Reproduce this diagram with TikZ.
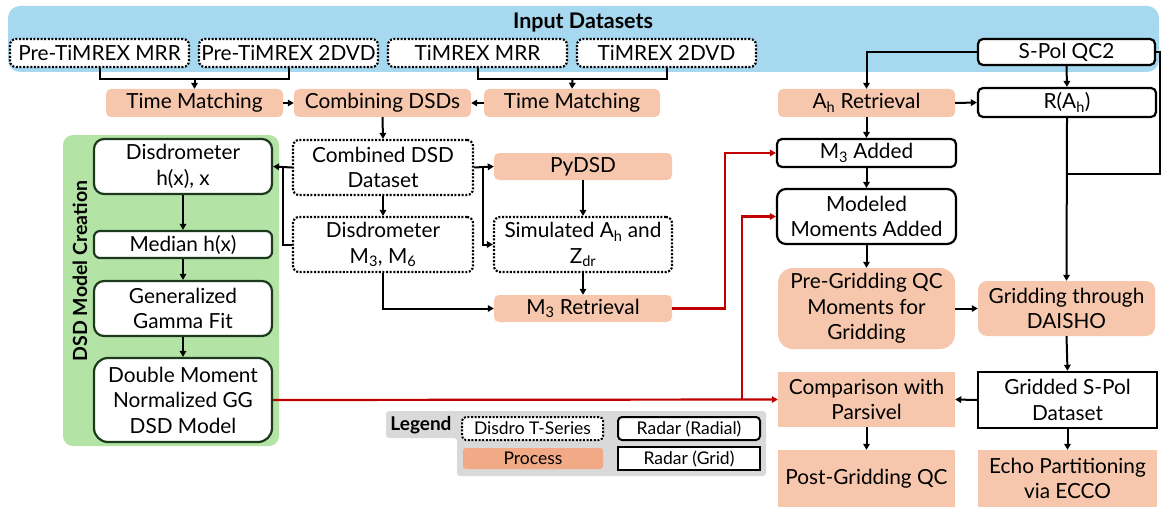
\documentclass[tikz,border=0pt]{standalone}
\usepackage{fontspec}
\setmainfont{Lato}
\usetikzlibrary{arrows.meta}
\definecolor{inblue}{HTML}{A6D8EF}
\definecolor{salmon}{HTML}{F6C7AC}
\definecolor{lsalmon}{HTML}{F2AA86}
\definecolor{grpanel}{HTML}{B3E4A5}
\definecolor{dkgreen}{HTML}{1E3A1E}
\definecolor{lgray}{HTML}{D9D9D9}
\definecolor{redline}{HTML}{C00000}
\tikzset{
  base/.style={inner sep=0pt, align=center, font=\fontsize{20.8}{25.5}\selectfont},
  sz/.style 2 args={minimum width=#1, minimum height=#2},
  disbox/.style={base, draw, fill=white, line width=2.2pt, dash pattern=on 2pt off 1.6pt, rounded corners=6pt},
  radbox/.style={base, draw, fill=white, line width=2.2pt, rounded corners=5pt},
  gridbox/.style={base, draw, fill=white, line width=2.4pt},
  procbox/.style={base, fill=salmon, rounded corners=5pt},
  procsq/.style={base, fill=salmon},
  dsdbox/.style={base, draw=dkgreen, fill=white, line width=2.2pt, rounded corners=10pt},
  conn/.style={line width=2pt},
  arr/.style={line width=2pt, -{Triangle[length=6pt,width=6.5pt]}},
  rarr/.style={line width=2.2pt, draw=redline, -{Triangle[length=6pt,width=6.5pt]}},
  lgfont/.style={font=\fontsize{17.5}{20}\selectfont}
}
\begin{document}
\begin{tikzpicture}[x=1pt,y=-1pt]
\useasboundingbox (0,0) rectangle (1161,508);
% backgrounds
\fill[inblue, rounded corners=12pt] (8,6) rectangle (1159,72);
\node[base, font=\fontsize{21.5}{24}\selectfont\bfseries] (title) at (583,23) {Input Datasets};
\fill[grpanel, rounded corners=10pt] (63,135) rectangle (279,446);
\node[base, font=\fontsize{19.5}{24}\selectfont\bfseries, rotate=90] (dsdlabel) at (80,271) {DSD Model Creation};

% input datasets
\node[disbox, sz={179pt}{28pt}] (pmrr) at (99.5,53) {Pre-TiMREX MRR};
\node[disbox, sz={179pt}{28pt}] (p2dvd) at (288.5,53) {Pre-TiMREX 2DVD};
\node[disbox, sz={179pt}{28pt}] (tmrr) at (477.5,53) {TiMREX MRR};
\node[disbox, sz={179pt}{28pt}] (t2dvd) at (666.5,53) {TiMREX 2DVD};
\node[radbox, sz={177pt}{26pt}] (spol) at (1066.5,52) {S-Pol QC2};

% row 2
\node[procbox, sz={177pt}{28pt}] (tm1) at (194.5,103) {Time Matching};
\node[procbox, sz={177pt}{28pt}] (comb) at (382.5,103) {Combining DSDs};
\node[procbox, sz={176pt}{28pt}] (tm2) at (572,103) {Time Matching};
\node[procbox, sz={177pt}{28pt}] (ahr) at (866.5,103) {A\textsubscript{h} Retrieval};
\node[radbox, sz={178pt}{29pt}] (rah) at (1067,102.5) {R(A\textsubscript{h})};

% DSD model column
\node[dsdbox, sz={178pt}{55pt}] (dhx) at (183,166.5) {Disdrometer\\h(x), x};
\node[dsdbox, sz={178pt}{27pt}, rounded corners=6pt] (med) at (183,244.5) {Median h(x)};
\node[dsdbox, sz={178pt}{55pt}] (ggf) at (183,308.5) {Generalized\\Gamma Fit};
\node[dsdbox, sz={178pt}{84pt}, rounded corners=14pt] (dm) at (183,400) {Double Moment\\Normalized GG\\DSD Model};

% disdro column
\node[disbox, sz={180pt}{55pt}] (cdd) at (383,167.5) {Combined DSD\\Dataset};
\node[disbox, sz={180pt}{55pt}] (dm36) at (383,244.5) {Disdrometer\\M\textsubscript{3}, M\textsubscript{6}};

% pydsd column
\node[procbox, sz={178pt}{27pt}] (pydsd) at (583,166.5) {PyDSD};
\node[disbox, sz={178pt}{55pt}] (sim) at (583,244.5) {Simulated A\textsubscript{h} and\\Z\textsubscript{dr}};
\node[procbox, sz={178pt}{27pt}] (m3r) at (583,308.5) {M\textsubscript{3} Retrieval};

% right columns
\node[radbox, sz={179pt}{28pt}] (m3a) at (866.5,153) {M\textsubscript{3} Added};
\node[radbox, sz={179pt}{55pt}, rounded corners=9pt] (mma) at (866.5,216.5) {Modeled\\Moments Added};
\node[procbox, sz={177pt}{81pt}, rounded corners=15pt] (pgqc) at (866.5,308.5) {Pre-Gridding QC\\Moments for\\Gridding};
\node[procbox, sz={177pt}{55pt}, rounded corners=9pt] (grid) at (1066.5,308.5) {Gridding through\\DAISHO};
\node[gridbox, sz={179pt}{56pt}] (gsp) at (1067.5,400) {Gridded S-Pol\\Dataset};
\node[procsq, sz={177pt}{55pt}] (cmp) at (866.5,399.5) {Comparison with\\Parsivel};
\node[procsq, sz={177pt}{57pt}] (pgq) at (866.5,478.5) {Post-Gridding QC};
\node[procsq, sz={179pt}{57pt}] (echo) at (1067.5,478.5) {Echo Partitioning\\via ECCO};

% legend
\fill[lgray, rounded corners=3pt] (386,411) -- (766,411) -- (766,476) -- (457,476) -- (457,438) -- (386,438) -- cycle;
\node[base, font=\fontsize{19}{20}\selectfont\bfseries] (lgtitle) at (421,425) {Legend};
\node[disbox, lgfont, sz={141pt}{23pt}, rounded corners=4pt, line width=2pt] (ldis) at (532.5,428.5) {Disdro T-Series};
\node[radbox, lgfont, sz={142pt}{23pt}, rounded corners=4pt, line width=2pt] (lrad) at (689,428.5) {Radar (Radial)};
\node[base, lgfont, fill=lsalmon, rounded corners=3pt, sz={140pt}{21pt}] (lproc) at (533,458.5) {Process};
\node[gridbox, lgfont, sz={142pt}{23pt}] (lgrid) at (689,458.5) {Radar (Grid)};

% connectors: inputs
\coordinate (j1) at (194.5,79);
\draw[conn] (pmrr.south) |- (j1) -| (p2dvd.south);
\draw[arr] (j1) -- (tm1.north);
\coordinate (j2) at (572.5,79);
\draw[conn] (tmrr.south) |- (j2) -| (t2dvd.south);
\draw[arr] (j2) -- (tm2.north);
\draw[arr] (tm1.east) -- (comb.west);
\draw[arr] (tm2.west) -- (comb.east);
\draw[arr] (comb.south) -- (cdd.north);
\draw[arr] (cdd.south) -- (dm36.north);
\draw[arr] (cdd.west) -- (dhx.east);
\coordinate (j3) at (283,167);
\draw[conn] (dm36.west) -| (j3);
\draw[arr] (cdd.east) -- (pydsd.west);
\coordinate (j4) at (483,167);
\draw[arr] (j4) |- (sim.west);
\draw[arr] (pydsd.south) -- (sim.north);
\draw[arr] (sim.south) -- (m3r.north);
\draw[arr] (dm36.south) |- (m3r.west);
\draw[arr] (dhx.south) -- (med.north);
\draw[arr] (med.south) -- (ggf.north);
\draw[arr] (ggf.south) -- (dm.north);

% red connectors
\coordinate (r1) at (725,153);
\draw[rarr] (m3r.east) -| (r1) -- (m3a.west);
\draw[rarr] (dm.east) -- (cmp.west);
\coordinate (j6) at (742,400);
\draw[rarr] (j6) |- (mma.west);

% radar connectors
\draw[arr] (spol.west) -| (ahr.north);
\draw[arr] (spol.south) -- (rah.north);
\draw[arr] (ahr.east) -- (rah.west);
\draw[arr] (ahr.south) -- (m3a.north);
\draw[arr] (m3a.south) -- (mma.north);
\draw[arr] (mma.south) -- (pgqc.north);
\draw[arr] (pgqc.east) -- (grid.west);
\draw[arr] (rah.south) -- (grid.north);
\coordinate (j7) at (1067,174);
\draw[conn] (spol.east) -- ++(4,0) |- (j7);
\draw[arr] (grid.south) -- (gsp.north);
\draw[arr] (gsp.west) -- (cmp.east);
\draw[arr] (cmp.south) -- (pgq.north);
\draw[arr] (gsp.south) -- (echo.north);
\end{tikzpicture}
\end{document}
